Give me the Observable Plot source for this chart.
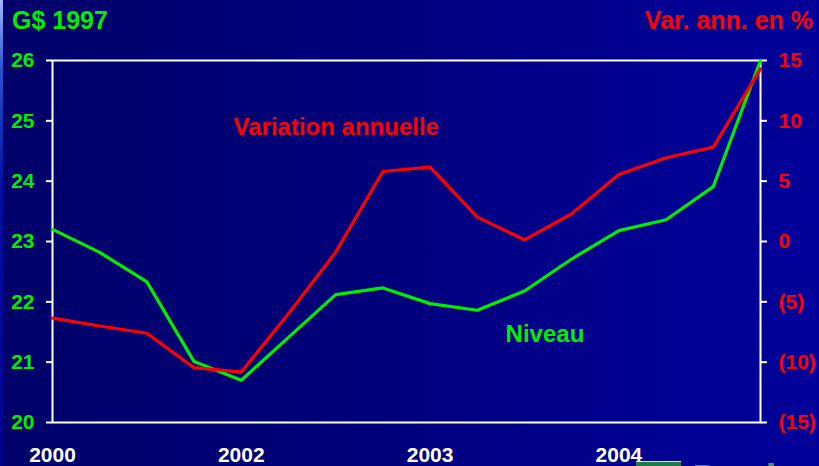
<!DOCTYPE html>
<html>
<head>
<meta charset="utf-8">
<script src="https://cdn.jsdelivr.net/npm/d3@7"></script>
<script src="https://cdn.jsdelivr.net/npm/@observablehq/plot@0.6"></script>
<style>
  html, body { margin: 0; padding: 0; background: #00007a; }
  #wrap {
    position: relative; width: 819px; height: 466px; overflow: hidden;
    background: linear-gradient(to right, #00006a 0%, #000078 40%, #00008e 75%, #00009a 100%);
    font-family: "Liberation Sans", Arial, sans-serif; font-weight: bold;
  }
  #edge { position: absolute; left: 0; top: 0; width: 3px; height: 466px;
    background: linear-gradient(to bottom, #9fb8ff 0%, #2a50d0 15%, #0010a0 40%, #000090 100%); }
  #header { position: relative; height: 40px; }
  .ttl { position: absolute; top: 8px; font-size: 25px; line-height: 25px; white-space: nowrap; }
  #tl { left: 12px; color: #00ee00; }
  #tr { right: 6px; color: #ff0000; }
  #logo { position: absolute; left: 636px; top: 461px; width: 183px; height: 5px; overflow: hidden; }
  #logo .box { position: absolute; left: 0; top: 0; width: 45px; height: 20px; background: #1f7a4a; border-top: 1px solid #d8e8dc; }
  #logo .txt { position: absolute; left: 56px; top: -2px; font-size: 40px; line-height: 40px; color: #5a8a6a; }
  svg { display: block; }
</style>
</head>
<body>
<div id="wrap">
  <div id="edge"></div>
  <div id="header">
    <span class="ttl" id="tl">G$ 1997</span>
    <span class="ttl" id="tr">Var. ann. en %</span>
  </div>
  <div id="chart"></div>
  <div id="logo"><div class="box"></div><div class="txt">Desjardins</div></div>
</div>
<script>
// Quarterly points (16 periods)
const periods = d3.range(16);
const niveau = [23.2, 22.82, 22.33, 21.01, 20.70, 21.41, 22.12, 22.23, 21.97, 21.86, 22.18, 22.71, 23.18, 23.36, 23.91, 26.0];
const variation = [-6.35, -7.0, -7.6, -10.46, -10.82, -5.99, -0.88, 5.8, 6.16, 2.02, 0.14, 2.3, 5.56, 6.94, 7.82, 14.31];
const xTickPos = [0, 4, 8, 12];
const xTickLabels = ["2000", "2002", "2003", "2004"];
const leftTicks = [20, 21, 22, 23, 24, 25, 26];
const rightTicks = [-15, -10, -5, 0, 5, 10, 15];
const labels = [
  {text: "Variation annuelle", x: 3.835, y: 24.90, color: "#ff0000"},
  {text: "Niveau", x: 9.6, y: 21.46, color: "#00ee00"}
];

// map right-axis values (%) onto left scale (G$)
const toLeft = v => 23 + v / 5;
const green = periods.map((p, i) => ({x: p, y: niveau[i]}));
const red = periods.map((p, i) => ({x: p, y: toLeft(variation[i])}));
const fmtRight = d => { const v = Math.round((d - 23) * 5); return v < 0 ? `(${-v})` : `${v}`; };

const chart = Plot.plot({
  width: 819,
  height: 426,
  marginTop: 20,
  marginBottom: 44,
  marginLeft: 52,
  marginRight: 59,
  style: {background: "transparent", fontFamily: "Liberation Sans, Arial, sans-serif", fontWeight: "bold", overflow: "visible"},
  x: {domain: [0, 15]},
  y: {domain: [20, 26]},
  marks: [
    Plot.frame({stroke: "white", strokeWidth: 2}),
    Plot.axisX(xTickPos, {tickSize: 0, tickPadding: 25, tickFormat: d => xTickLabels[xTickPos.indexOf(d)], fill: "white", fontSize: 21, label: null}),
    Plot.axisY(leftTicks, {anchor: "left", tickSize: 6, tickPadding: 12, stroke: "white", strokeWidth: 2, fill: "#00ee00", fontSize: 21, label: null, tickFormat: d => `${d}`}),
    Plot.axisY(rightTicks.map(toLeft), {anchor: "right", tickSize: 6, tickPadding: 12, stroke: "white", strokeWidth: 2, fill: "#ff0000", fontSize: 21, label: null, tickFormat: fmtRight}),
    Plot.line(green, {x: "x", y: "y", stroke: "#00ee00", strokeWidth: 3.2}),
    Plot.line(red, {x: "x", y: "y", stroke: "#ff0000", strokeWidth: 3.2}),
    Plot.text(labels, {x: "x", y: "y", text: "text", textAnchor: "start", fill: "color", fontSize: 24, ariaLabel: "series-label"})
  ]
});
d3.select(chart).selectAll('g[aria-label="series-label"]').style("filter", "drop-shadow(2px 2px 0 #000)");
document.getElementById("chart").appendChild(chart);
</script>
</body>
</html>
